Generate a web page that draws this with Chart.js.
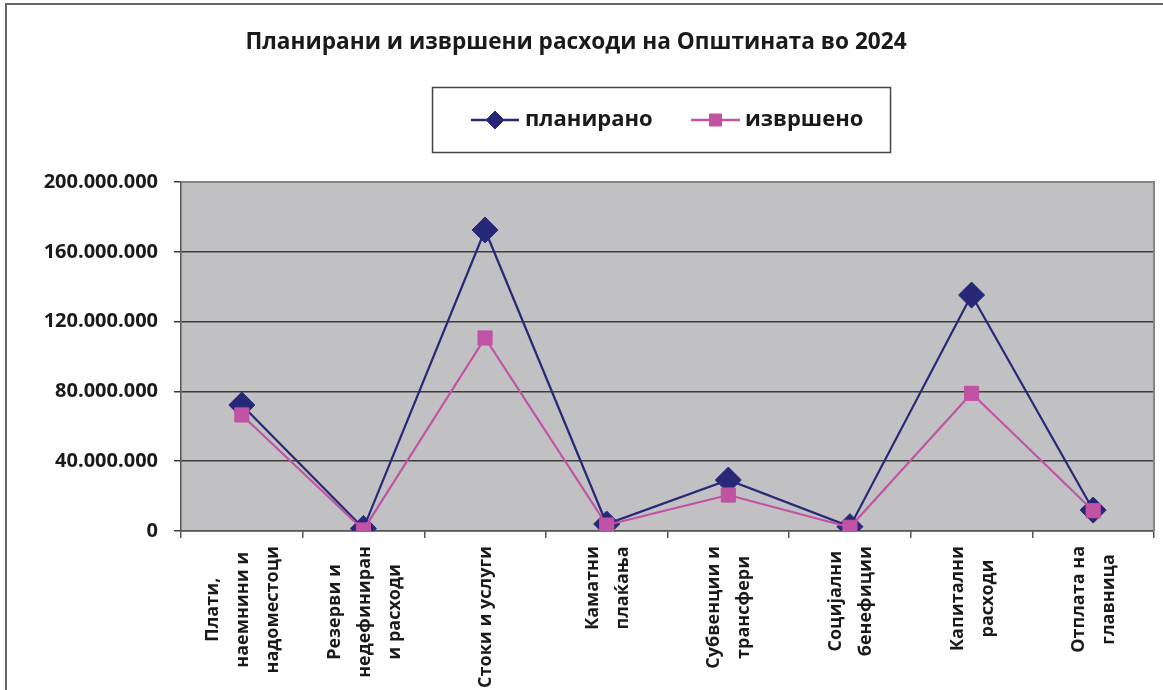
<!DOCTYPE html>
<html><head><meta charset="utf-8">
<script src="https://cdn.jsdelivr.net/npm/chart.js@4"></script>
<style>html,body{margin:0;padding:0;background:#fff}canvas{display:block}</style>
</head><body>
<canvas id="c" width="1163" height="690"></canvas>
<script>
const chartTitle = 'Планирани и извршени расходи на Општината во 2024';
const categories = [
  ['Плати,', 'наемнини и', 'надоместоци'],
  ['Резерви и', 'недефиниран', 'и расходи'],
  ['Стоки и услуги'],
  ['Каматни', 'плаќања'],
  ['Субвенции и', 'трансфери'],
  ['Социјални', 'бенефиции'],
  ['Капитални', 'расходи'],
  ['Отплата на', 'главница']
];
const seriesNames = ['планирано', 'извршено'];
const planned  = [72200000, 1500000, 172500000, 4000000, 29200000, 2500000, 135200000, 12000000];
const executed = [66500000,  600000, 110600000, 3400000, 20600000, 2100000,  78900000, 11600000];
const yMin = 0, yMax = 200000000, yStep = 40000000;

const NAVY = '#272878', PINK = '#c053a4';
const FONT = "'Open Sans', 'DejaVu Sans', sans-serif";

function fmt(v){ return String(Math.round(v)).replace(/\B(?=(\d{3})+(?!\d))/g, '.'); }

const decor = {
  id: 'decor',
  beforeDraw(chart){
    const {ctx, chartArea:a} = chart;
    ctx.save();
    ctx.fillStyle = '#fff'; ctx.fillRect(0,0,chart.width,chart.height);
    ctx.fillStyle = '#c1c1c3'; ctx.fillRect(a.left, a.top, a.right-a.left, a.bottom-a.top);
    ctx.restore();
  },
  beforeDatasetsDraw(chart){
    const {ctx, chartArea:a} = chart;
    ctx.save();
    ctx.strokeStyle = '#858585'; ctx.lineWidth = 2;
    ctx.beginPath();
    ctx.moveTo(a.left, a.top); ctx.lineTo(a.right, a.top); ctx.lineTo(a.right, a.bottom);
    ctx.stroke();
    ctx.restore();
  },
  afterDraw(chart){
    const {ctx, chartArea:a} = chart;
    ctx.save();
    // outer frame (top and left edges)
    ctx.strokeStyle = '#666'; ctx.lineWidth = 2;
    ctx.beginPath(); ctx.moveTo(6, 690); ctx.lineTo(6, 4); ctx.lineTo(1163, 4); ctx.stroke();
    // title
    ctx.fillStyle = '#1a1a1a';
    ctx.font = "bold 22.6px " + FONT;
    ctx.textAlign = 'center'; ctx.textBaseline = 'middle';
    ctx.fillText(chartTitle, 576, 43);
    // legend box
    ctx.strokeStyle = '#444'; ctx.lineWidth = 1.5;
    ctx.strokeRect(432.5, 87.5, 458, 65);
    const items = [
      {x0:471, x1:519, color:NAVY, style:'rectRot', r:9, tx:525, text:seriesNames[0]},
      {x0:691, x1:740, color:PINK, style:'rect', r:8.5, tx:745, text:seriesNames[1]}
    ];
    const ly = 120;
    items.forEach(it => {
      ctx.strokeStyle = it.color; ctx.lineWidth = 2.5;
      ctx.beginPath(); ctx.moveTo(it.x0, ly); ctx.lineTo(it.x1, ly); ctx.stroke();
      ctx.fillStyle = it.color; ctx.strokeStyle = it.color; ctx.lineWidth = 1;
      Chart.helpers.drawPoint(ctx, {pointStyle: it.style, radius: it.r, borderWidth: 1}, (it.x0+it.x1)/2, ly);
      ctx.fillStyle = '#1a1a1a';
      ctx.font = "bold 22px " + FONT;
      ctx.textAlign = 'left'; ctx.textBaseline = 'middle';
      ctx.fillText(it.text, it.tx, ly);
    });
    // x category labels (rotated, lines centred)
    const xs = chart.scales.x;
    ctx.font = "bold 18px " + FONT;
    ctx.fillStyle = '#1a1a1a';
    categories.forEach((lines, i) => {
      const cx = xs.getPixelForValue(i);
      let W = 0; lines.forEach(l => W = Math.max(W, ctx.measureText(l).width));
      const cy = a.bottom + 15 + W/2;
      lines.forEach((l, j) => {
        const x = cx + (j - (lines.length-1)/2) * 30;
        ctx.save();
        ctx.translate(x, cy); ctx.rotate(-Math.PI/2);
        ctx.textAlign = 'center'; ctx.textBaseline = 'middle';
        ctx.fillText(l, 0, 1);
        ctx.restore();
      });
    });
    ctx.restore();
  }
};

new Chart(document.getElementById('c'), {
  type: 'line',
  data: {
    labels: categories.map(c => c.join(' ')),
    datasets: [
      {label: seriesNames[0], data: planned, borderColor: NAVY, backgroundColor: NAVY,
       borderWidth: 2.2, pointStyle: 'rectRot', pointRadius: 13, pointHoverRadius: 13,
       pointBorderWidth: 1, tension: 0, order: 1},
      {label: seriesNames[1], data: executed, borderColor: PINK, backgroundColor: PINK,
       borderWidth: 2.2, pointStyle: 'rect', pointRadius: 10, pointHoverRadius: 10,
       pointBorderWidth: 1, tension: 0, order: 0}
    ]
  },
  options: {
    responsive: false, animation: false,
    layout: {autoPadding: false, padding: {top: 182, right: 9, left: 0, bottom: 0}},
    plugins: {legend: {display: false}, title: {display: false}, tooltip: {enabled: false}},
    scales: {
      x: {
        offset: true,
        grid: {offset: true, drawOnChartArea: false, drawTicks: true, tickLength: 7, color: '#555', lineWidth: 1.5},
        border: {display: true, color: '#555', width: 1.5},
        ticks: {display: false},
        afterFit(s){ s.height = 690 - 531; s.paddingLeft = 0; s.paddingRight = 0; }
      },
      y: {
        min: yMin, max: yMax,
        grid: {color: '#3c3c3c', lineWidth: 1.5, tickLength: 7, drawTicks: true},
        border: {display: true, color: '#555', width: 1.5},
        ticks: {stepSize: yStep, padding: 16, color: '#1a1a1a',
                font: {family: FONT, size: 20, weight: 'bold'},
                callback: v => fmt(v)},
        afterFit(s){ s.width = 181; s.paddingRight = 0; }
      }
    }
  },
  plugins: [decor]
});
</script>
</body></html>
